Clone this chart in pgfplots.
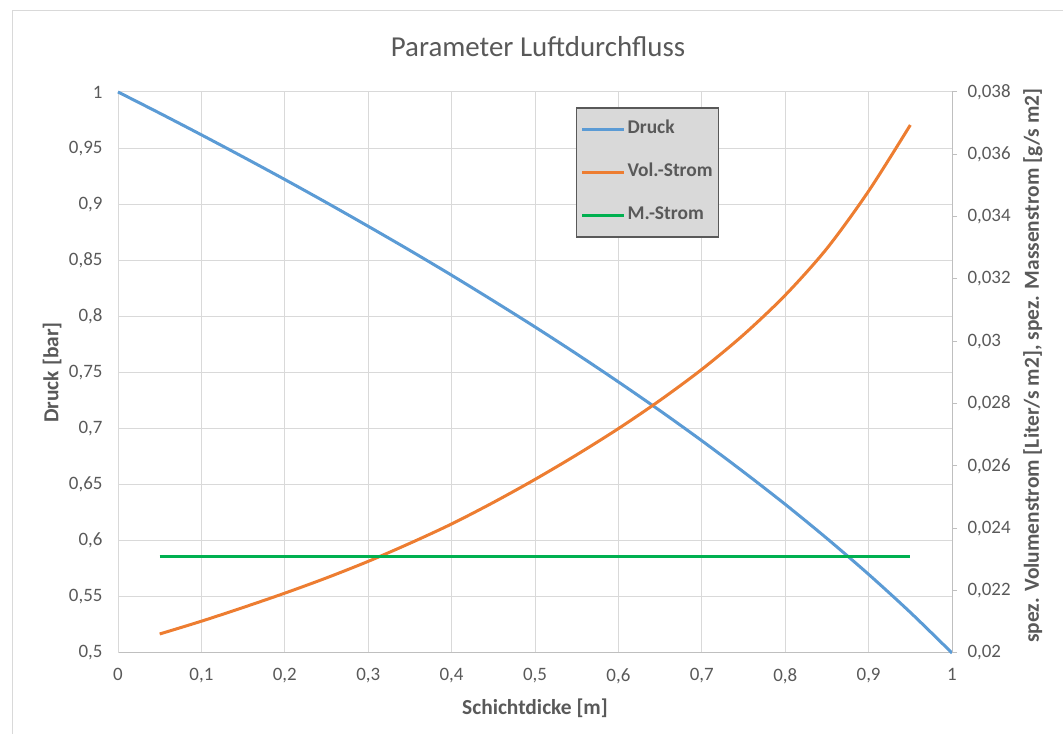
\documentclass[border=0pt]{standalone}
\usepackage{pgfplots}
\pgfplotsset{compat=1.18}
\usepackage{fontspec}
\setmainfont{Carlito}

\definecolor{druck}{HTML}{5B9BD5}
\definecolor{vol}{HTML}{ED7D31}
\definecolor{mstrom}{HTML}{00B050}
\definecolor{txtgray}{HTML}{595959}
\definecolor{gridgray}{HTML}{D9D9D9}
\definecolor{axgray}{HTML}{BFBFBF}

\pgfplotsset{
  excelbase/.style={
    scale only axis, width=834bp, height=561bp,
    at={(118bp,81bp)}, anchor=south west,
    xmin=0, xmax=1,
    /pgf/number format/assume math mode=true,
    /pgf/number format/use comma,
    tick label style={font=\fontsize{19}{21}\selectfont, text=txtgray},
    label style={font=\bfseries\fontsize{21.5}{24}\selectfont, text=txtgray},
  },
}

\begin{document}
\begin{tikzpicture}[x=1bp,y=1bp]
\useasboundingbox (0,0) rectangle (1063,734);
\draw[gridgray, line width=1bp] (12,-5) -- (12,723) -- (1070,723);
\node[font=\fontsize{29}{33}\selectfont, text=txtgray] at (538,687) {Parameter Luftdurchfluss};

% linke Achse: Druck
\begin{axis}[
  excelbase,
  ymin=0.5, ymax=1,
  xtick={0,0.1,0.2,0.3,0.4,0.5,0.6,0.7,0.8,0.9,1},
  ytick={0.5,0.55,0.6,0.65,0.7,0.75,0.8,0.85,0.9,0.95,1},
  grid=major, major grid style={gridgray, line width=1bp},
  axis x line*=bottom, axis y line*=left,
  x axis line style={-, axgray, line width=1bp},
  y axis line style={-, gridgray, line width=1bp},
  major tick length=0pt,
  xticklabel style={yshift=-12bp},
  yticklabel style={xshift=-12bp},
  xlabel={Schichtdicke [m]},
  ylabel={Druck [bar]},
  xlabel style={at={(axis description cs:0.5,-0.098)}, anchor=center},
  ylabel style={at={(axis description cs:-0.079,0.5)}, anchor=center},
  clip=false,
]
\addplot[druck, line width=3bp, smooth] coordinates {
  (0,1.0000) (0.05,0.9811) (0.1,0.9618) (0.15,0.9421) (0.2,0.9220)
  (0.25,0.9014) (0.3,0.8803) (0.35,0.8588) (0.4,0.8367) (0.45,0.8139)
  (0.5,0.7906) (0.55,0.7665) (0.6,0.7416) (0.65,0.7159) (0.7,0.6892)
  (0.75,0.6614) (0.8,0.6325) (0.85,0.6021) (0.9,0.5701) (0.95,0.5362)
  (1,0.5000)
};
\end{axis}

% rechte Achse: Volumenstrom und Massenstrom
\begin{axis}[
  excelbase,
  ymin=0.02, ymax=0.038,
  ytick={0.02,0.022,0.024,0.026,0.028,0.03,0.032,0.034,0.036,0.038},
  scaled y ticks=false,
  yticklabel style={/pgf/number format/fixed, /pgf/number format/precision=3, xshift=7bp},
  axis x line=none, axis y line*=right,
  y axis line style={-, axgray, line width=1bp},
  tick align=outside, major tick length=5bp,
  major tick style={axgray, line width=1bp},
  ylabel={spez. Volumenstrom [Liter/s m2], spez. Massenstrom [g/s m2]},
  ylabel style={at={(axis description cs:1.097,0.512)}, anchor=center},
  legend style={
    at={(0.549,0.973)}, anchor=north west,
    draw=txtgray, line width=1.5bp, fill=gridgray,
    font=\bfseries\fontsize{19.5}{22}\selectfont, text=txtgray,
    inner xsep=4bp, inner ysep=9bp, row sep=18bp,
    nodes={inner xsep=2bp, inner ysep=3bp, text height=14bp, text depth=5bp},
  },
  legend cell align=left,
  legend image code/.code={\draw[#1, line width=3bp] (0bp,0bp) -- (42bp,0bp);},
]
\addlegendimage{druck}
\addlegendentry{Druck}
\addplot[vol, line width=3bp, smooth] coordinates {
  (0.05,0.02061) (0.1,0.02102) (0.15,0.02146) (0.2,0.02192)
  (0.25,0.02241) (0.3,0.02294) (0.35,0.02352) (0.4,0.02414)
  (0.45,0.02483) (0.5,0.02557) (0.55,0.02636) (0.6,0.02720)
  (0.65,0.02811) (0.7,0.02910) (0.75,0.03021) (0.8,0.03148)
  (0.85,0.03298) (0.9,0.03482) (0.95,0.03694)
};
\addlegendentry{Vol.-Strom}
\addplot[mstrom, line width=3bp] coordinates {
  (0.05,0.02308) (0.95,0.02308)
};
\addlegendentry{M.-Strom}
\end{axis}
\end{tikzpicture}
\end{document}
